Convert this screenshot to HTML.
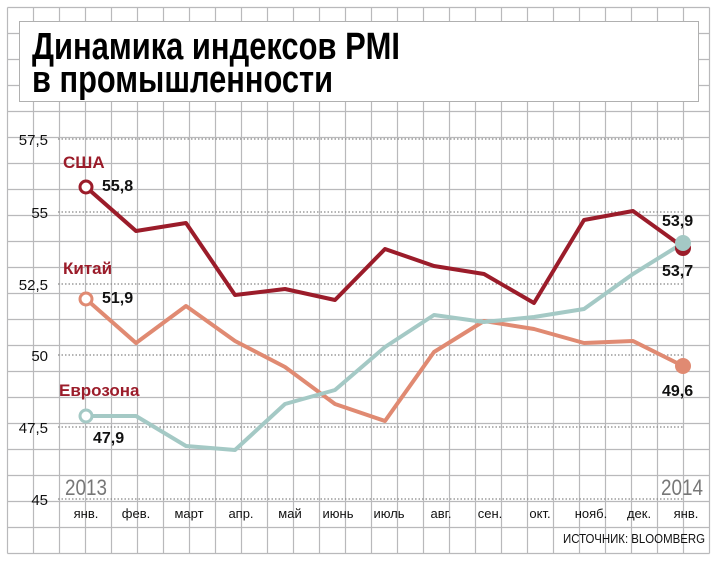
<!DOCTYPE html>
<html><head><meta charset="utf-8"><style>
body{margin:0;background:#fff}
svg{display:block}
text{font-family:"Liberation Sans",sans-serif}
</style></head><body>
<svg width="718" height="562" viewBox="0 0 718 562" xmlns="http://www.w3.org/2000/svg">
<rect width="718" height="562" fill="#fff"/>
<g stroke="#b9b9bb" stroke-width="1.2" fill="none">
<path d="M7.5 7.5V553.5M33.5 7.5V553.5M59.5 7.5V553.5M85.5 7.5V553.5M111.5 7.5V553.5M137.5 7.5V553.5M163.5 7.5V553.5M189.5 7.5V553.5M215.5 7.5V553.5M241.5 7.5V553.5M267.5 7.5V553.5M293.5 7.5V553.5M319.5 7.5V553.5M345.5 7.5V553.5M371.5 7.5V553.5M397.5 7.5V553.5M423.5 7.5V553.5M449.5 7.5V553.5M475.5 7.5V553.5M501.5 7.5V553.5M527.5 7.5V553.5M553.5 7.5V553.5M579.5 7.5V553.5M605.5 7.5V553.5M631.5 7.5V553.5M657.5 7.5V553.5M683.5 7.5V553.5M709.5 7.5V553.5"/>
<path d="M7.5 7.5H709.5M7.5 33.5H709.5M7.5 59.5H709.5M7.5 85.5H709.5M7.5 111.5H709.5M7.5 137.5H709.5M7.5 163.5H709.5M7.5 189.5H709.5M7.5 215.5H709.5M7.5 241.5H709.5M7.5 267.5H709.5M7.5 293.5H709.5M7.5 319.5H709.5M7.5 345.5H709.5M7.5 371.5H709.5M7.5 397.5H709.5M7.5 423.5H709.5M7.5 449.5H709.5M7.5 475.5H709.5M7.5 501.5H709.5M7.5 527.5H709.5M7.5 553.5H709.5"/>
</g>
<rect x="19.5" y="21.5" width="679" height="80" fill="#fff" stroke="#b0b0b0" stroke-width="1"/>
<text x="32" y="59" font-size="38" font-weight="bold" fill="#000" textLength="368" lengthAdjust="spacingAndGlyphs">Динамика индексов PMI</text>
<text x="32" y="92" font-size="38" font-weight="bold" fill="#000" textLength="301" lengthAdjust="spacingAndGlyphs">в промышленности</text>
<g stroke="#888" stroke-width="1.3" stroke-dasharray="1.5 2">
<path d="M58 139H683M58 212H683M58 284H683M58 355H683M58 427H683M58 499H683"/>
</g>
<g font-size="15" fill="#111" text-anchor="end">
<text x="48" y="145">57,5</text><text x="48" y="218">55</text><text x="48" y="290">52,5</text>
<text x="48" y="361">50</text><text x="48" y="433">47,5</text><text x="48" y="505">45</text>
</g>
<g font-size="13" fill="#111" text-anchor="middle">
<text x="86" y="518">янв.</text><text x="136" y="518">фев.</text><text x="189" y="518">март</text>
<text x="241" y="518">апр.</text><text x="290" y="518">май</text><text x="338" y="518">июнь</text>
<text x="389" y="518">июль</text><text x="441" y="518">авг.</text><text x="490" y="518">сен.</text>
<text x="540" y="518">окт.</text><text x="591" y="518">нояб.</text><text x="639" y="518">дек.</text>
<text x="686" y="518">янв.</text>
</g>
<text x="705" y="543" font-size="13" fill="#111" text-anchor="end" textLength="142" lengthAdjust="spacingAndGlyphs">ИСТОЧНИК: BLOOMBERG</text>
<text x="65" y="495" font-size="22" fill="#777" textLength="42" lengthAdjust="spacingAndGlyphs">2013</text>
<text x="661" y="495" font-size="22" fill="#777" textLength="42" lengthAdjust="spacingAndGlyphs">2014</text>
<g fill="none" stroke-width="4" stroke-linejoin="round">
<polyline stroke="#e08a72" points="86,299 136,343 186,306 235,341 285,367 335,404 385,421 434,352 484,321 534,329 584,343 633,341 683,366"/>
<polyline stroke="#a4c9c5" points="86,416 136,416 186,446 235,450 285,404 335,390 385,347 434,315 484,322 534,317 584,309 633,274 683,243"/>
<polyline stroke="#9b1c2a" points="86,187 136,231 186,223 235,295 285,289 335,300 385,249 434,266 484,274 534,303 584,220 633,211 683,247"/>
</g>
<circle cx="86" cy="187" r="6" fill="#fff" stroke="#9b1c2a" stroke-width="3"/>
<circle cx="86" cy="299" r="6" fill="#fff" stroke="#e08a72" stroke-width="3"/>
<circle cx="86" cy="416" r="6" fill="#fff" stroke="#a4c9c5" stroke-width="3"/>
<circle cx="683" cy="248" r="8" fill="#9b1c2a"/>
<circle cx="683" cy="366" r="8" fill="#e08a72"/>
<circle cx="683" cy="243" r="8" fill="#a4c9c5"/>
<g font-size="17" font-weight="bold">
<text x="63" y="168" fill="#9b1c2a">США</text>
<text x="63" y="274" fill="#9b1c2a">Китай</text>
<text x="59" y="396" fill="#9b1c2a">Еврозона</text>
</g>
<g font-size="16" font-weight="bold" fill="#111">
<text x="102" y="191">55,8</text>
<text x="102" y="303">51,9</text>
<text x="93" y="443">47,9</text>
<text x="662" y="226">53,9</text>
<text x="662" y="276">53,7</text>
<text x="662" y="396">49,6</text>
</g>
</svg>
</body></html>
